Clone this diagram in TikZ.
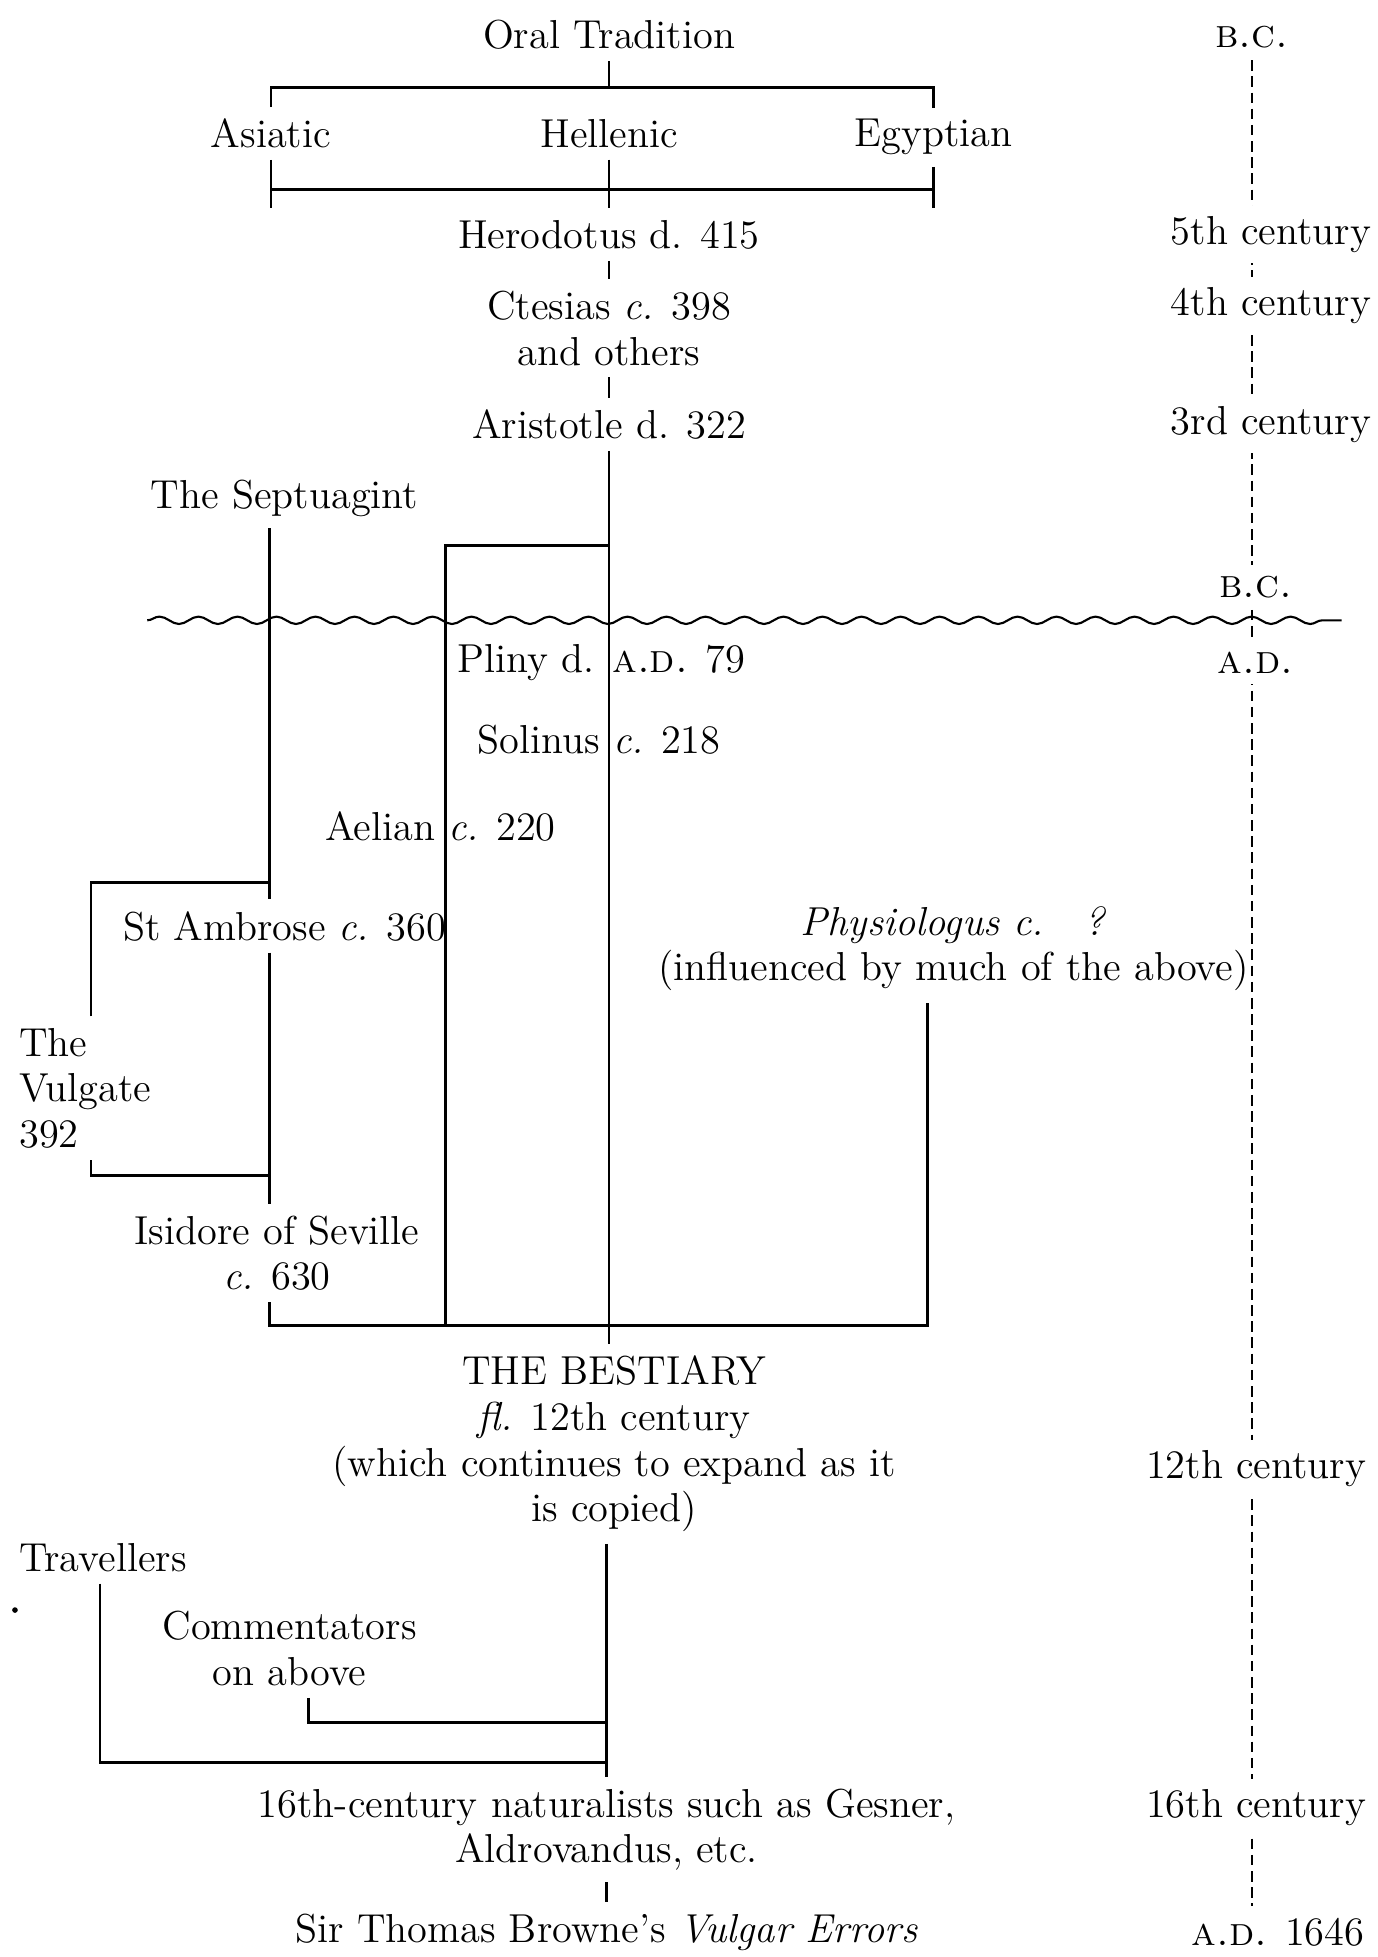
\documentclass[tikz,border=0pt]{standalone}
\usepackage{tikz}
\usetikzlibrary{calc,backgrounds,decorations.pathmorphing}

\begin{document}
\begin{tikzpicture}[
		x=0.1248mm, y=-0.1248mm,
		line width=0.7pt,
		txt/.style={font=\fontsize{11.5}{13}\selectfont, inner sep=3pt, align=center},
		era/.style={txt, fill=white},
		wave/.style={decorate, decoration={snake, segment length=3.9mm, amplitude=0.37mm}, line width=0.6pt},
		timeline/.style={line width=0.6pt, dash pattern=on 3pt off 1.6pt}
		]
		\useasboundingbox (0,0) rectangle (1104,1568);
		
		% columns and levels of the tree
		\coordinate (sep) at (216,0);
		\coordinate (vul) at (73,0);
		\coordinate (ael) at (357,0);
		\coordinate (phys) at (743,0);
		\coordinate (trav) at (80,0);
		\coordinate (comm) at (247,0);
		\coordinate (low) at (486,0);
		\coordinate (topbar) at (488,70);
		\coordinate (midbar) at (488,152);
		\coordinate (aelbar) at (488,437);
		\coordinate (vtop) at (0,707);
		\coordinate (vbot) at (0,942);
		\coordinate (bjoin) at (488,1062);
		\coordinate (cjoin) at (486,1380);
		\coordinate (tjoin) at (486,1412);
		
		% Oral tradition
		\node[txt] (oral) at (488,28) {Oral Tradition};
		\node[txt] (asiatic) at (217,107) {Asiatic};
		\node[txt] (hellenic) at (488,107) {Hellenic};
		\node[txt] (egypt) at (748,110) {Egyptian};
		\draw (oral) -- (topbar);
		\draw (asiatic) |- (topbar) -| (egypt);
		
		\node[txt] (herod) at (488,188) {Herodotus d. 415};
		\node[txt] (ctesias) at (488,263) {Ctesias \textit{c.} 398\\and others};
		\node[txt] (arist) at (488,340) {Aristotle d. 322};
		\draw (asiatic) -- (asiatic |- herod.north);
		\draw (egypt) -- (egypt |- herod.north);
		\draw (hellenic) -- (herod);
		\draw (asiatic |- midbar) -- (egypt |- midbar);
		\draw (herod) -- (ctesias);
		\draw (ctesias) -- (arist);
		
		% Hellenic line down to the bestiary
		\node[txt] (pliny) at (482,531) {Pliny d. \textsc{a.d.} 79};
		\node[txt] (solinus) at (480,593) {Solinus \textit{c.} 218};
		\node[txt] (aelian) at (353,662) {Aelian \textit{c.} 220};
		\node[txt] (bestiary) at (492,1157) {THE BESTIARY\\\textit{fl.} 12th century\\(which continues to expand as it\\is copied)};
		\draw (arist) -- (arist |- bestiary.north);
		\draw (aelbar) -| (ael |- bjoin);
		
		% Septuagint and the Vulgate
		\node[txt] (septu) at (228,399) {The Septuagint};
		\node[txt] (ambrose) at (228,742) {St Ambrose \textit{c.} 360};
		\node[txt, align=left, anchor=west] (vulgate) at (6,872) {The\\Vulgate\\392};
		\node[txt] (isidore) at (222,1004) {Isidore of Seville\\\textit{c.} 630};
		\draw (sep |- septu.south) -- (sep |- ambrose.north);
		\draw (sep |- ambrose.south) -- (sep |- isidore.north);
		\draw (vul |- vulgate.north) |- (sep |- vtop);
		\draw (vul |- vulgate.south) |- (sep |- vbot);
		
		\node[txt] (physio) at (764,760) {\textit{Physiologus c.\quad ?}\\(influenced by much of the above)};
		\draw (sep |- isidore.south) |- (bjoin) -| (phys |- physio.south);
		
		% after the bestiary
		\node[txt, anchor=west] (travel) at (6,1248) {Travellers};
		\fill (12,1290) circle[radius=0.8pt];
		\node[txt] (comment) at (232,1321) {Commentators\\on above};
		\node[txt] (natur) at (486,1466) {16th-century naturalists such as Gesner,\\Aldrovandus, etc.};
		\node[txt] (browne) at (486,1548) {Sir Thomas Browne's \textit{Vulgar Errors}};
		\draw (low |- bestiary.south) -- (low |- natur.north);
		\draw (comm |- comment.south) |- (cjoin);
		\draw (trav |- travel.south) |- (tjoin);
		\draw (natur) -- (browne);
		
		% time scale
		\node[era] (bc1) at (1003,30) {\textsc{b.c.}};
		\node[era, anchor=east] (c5) at (1108,188) {5th century};
		\node[era, anchor=east] (c4) at (1108,245) {4th century};
		\node[era, anchor=east] (c3) at (1108,340) {3rd century};
		\node[era] (bc2) at (1006,470) {\textsc{b.c.}};
		\node[era] (ad1) at (1006,531) {\textsc{a.d.}};
		\node[era, anchor=east] (c12) at (1104,1177) {12th century};
		\node[era, anchor=east] (c16) at (1104,1448) {16th century};
		\node[era] (ad2) at (1024,1548) {\textsc{a.d.} 1646};
		\begin{scope}[on background layer]
			\draw[timeline] (bc1) -- (bc1 |- ad2.north);
		\end{scope}
		
		% B.C. / A.D. divide
		\coordinate (waveL) at (118,497);
		\coordinate (waveR) at (1075,497);
		\draw[wave] (waveL) -- (waveR);
		
	\end{tikzpicture}
\end{document}
